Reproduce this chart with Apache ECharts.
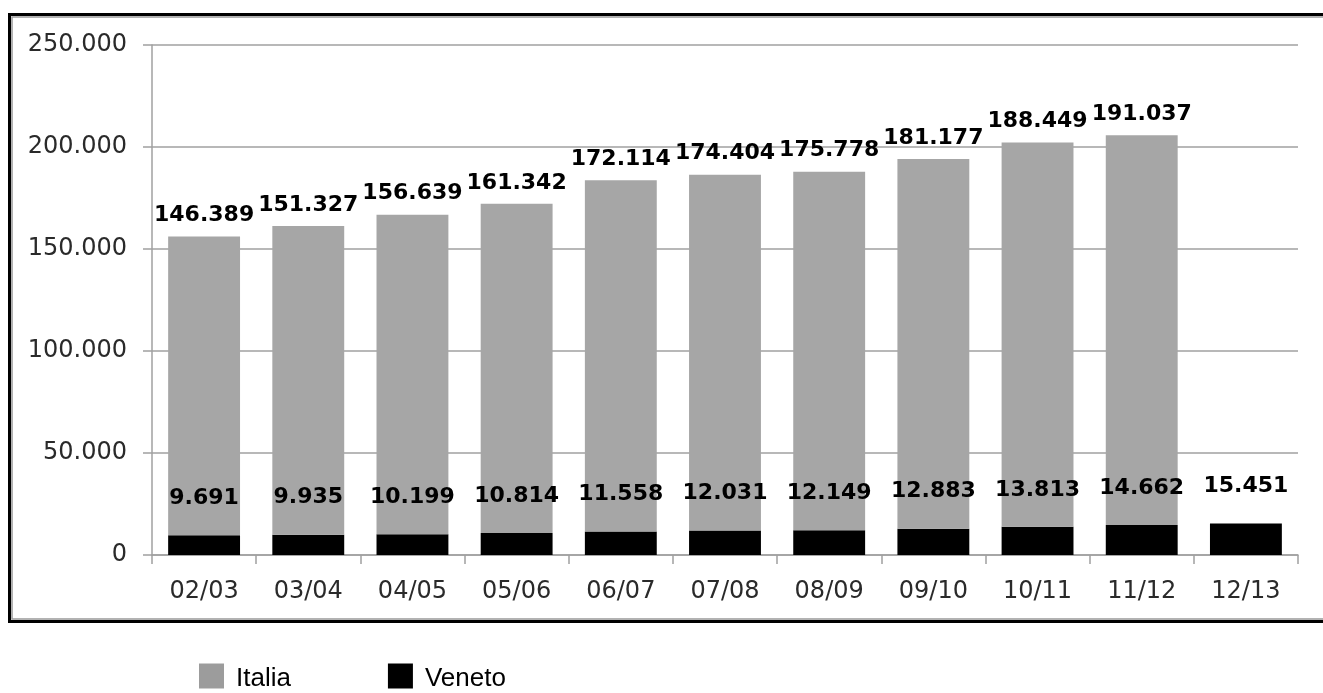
<!DOCTYPE html>
<html>
<head>
<meta charset="utf-8">
<script src="https://cdn.jsdelivr.net/npm/echarts@6/dist/echarts.min.js"></script>
<style>
html,body{margin:0;padding:0;background:#fff;}
#c{width:1323px;height:693px;}
</style>
</head>
<body>
<div id="c"></div>
<script>
const categories = ['02/03','03/04','04/05','05/06','06/07','07/08','08/09','09/10','10/11','11/12','12/13'];
const venetoValues = [9691, 9935, 10199, 10814, 11558, 12031, 12149, 12883, 13813, 14662, 15451];
const italiaValues = [146389, 151327, 156639, 161342, 172114, 174404, 175778, 181177, 188449, 191037, null];
const yTicks = [0, 50000, 100000, 150000, 200000, 250000];

function fmt(v) {
  return String(v).replace(/\B(?=(\d{3})+(?!\d))/g, '.');
}

const chart = echarts.init(document.getElementById('c'));
const axisColor = '#a0a0a0';
chart.setOption({
  animation: false,
  backgroundColor: '#fff',
  graphic: [
    { type: 'rect', z: -10, shape: { x: 9.5, y: 14.5, width: 1340, height: 607 },
      style: { fill: 'none', stroke: '#000', lineWidth: 3 } },
    { type: 'rect', z: -10, shape: { x: 12, y: 17, width: 1340, height: 602 },
      style: { fill: 'none', stroke: '#999', lineWidth: 1.5 } }
  ],
  grid: { left: 152, right: 25, top: 45, bottom: 138, containLabel: false },
  legend: {
    left: 199, top: 660, padding: 0,
    itemWidth: 25, itemHeight: 25, itemGap: 97,
    icon: 'rect',
    formatter: name => '{t|' + name + '}',
    textStyle: {
      fontFamily: 'Liberation Sans', fontSize: 26, color: '#000',
      rich: { t: { fontFamily: 'Liberation Sans', fontSize: 26, lineHeight: 26, color: '#000', padding: [6, 0, 0, 7] } }
    },
    data: [
      { name: 'Italia', itemStyle: { color: '#9c9c9c' } },
      { name: 'Veneto', itemStyle: { color: '#000' } }
    ]
  },
  xAxis: {
    type: 'category',
    data: categories,
    axisLine: { lineStyle: { color: axisColor, width: 1.5 } },
    axisTick: { show: true, length: 9, alignWithLabel: false, lineStyle: { color: axisColor, width: 1.5 } },
    axisLabel: { margin: 25, fontFamily: 'DejaVu Sans', fontSize: 24, color: '#2a2a2a' }
  },
  yAxis: {
    type: 'value',
    min: yTicks[0], max: yTicks[yTicks.length - 1], interval: 50000,
    axisLine: { show: true, lineStyle: { color: axisColor, width: 1.5 } },
    axisTick: { show: true, length: 9, lineStyle: { color: axisColor, width: 1.5 } },
    splitLine: { lineStyle: { color: axisColor, width: 1.5 } },
    axisLabel: { margin: 25, fontFamily: 'DejaVu Sans', fontSize: 24, color: '#2a2a2a', formatter: fmt }
  },
  series: [
    {
      name: 'Veneto', type: 'bar', stack: 'tot', data: venetoValues,
      barCategoryGap: '31%',
      itemStyle: { color: '#000' },
      label: { show: true, position: 'top', distance: 26, fontFamily: 'DejaVu Sans', fontWeight: 'bold',
               fontSize: 22, lineHeight: 22, color: '#000', formatter: p => fmt(p.value) }
    },
    {
      name: 'Italia', type: 'bar', stack: 'tot', data: italiaValues,
      barCategoryGap: '31%',
      itemStyle: { color: '#a6a6a6' },
      label: { show: true, position: 'top', distance: 10, fontFamily: 'DejaVu Sans', fontWeight: 'bold',
               fontSize: 22, lineHeight: 22, color: '#000', formatter: p => p.value == null ? '' : fmt(p.value) }
    }
  ]
});
</script>
</body>
</html>
